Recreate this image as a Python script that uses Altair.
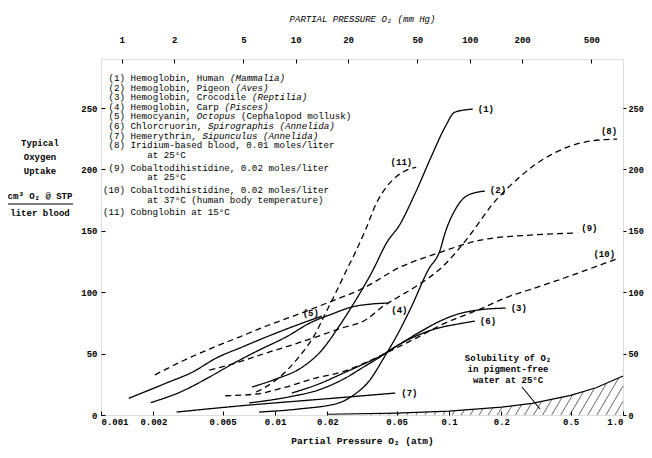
import altair as alt
import pandas as pd
import numpy as np

FONT = "Liberation Mono"

# ---------------- data ----------------
# x: partial pressure O2 (atm), y: oxygen uptake (cm3 O2 @ STP / liter blood)
c1_x = [0.00739, 0.0101, 0.0141, 0.0186, 0.0232, 0.0275, 0.0358, 0.0448, 0.0511, 0.064, 0.0789, 0.0949, 0.108, 0.137]
c1_y = [22.8, 29.3, 38.3, 52.9, 71.7, 87.9, 115.6, 142.5, 153.1, 180.8, 210.1, 234.5, 246.7, 249.2]

c2_x = [0.00811, 0.0137, 0.0232, 0.0283, 0.0344, 0.0425, 0.0511, 0.0607, 0.0759, 0.0889, 0.0949, 0.1082, 0.1234, 0.1466, 0.1607]
c2_y = [2.4, 4.9, 9.8, 16.3, 26.9, 47.2, 66.8, 87.9, 118.1, 134.4, 148.2, 166.9, 177.5, 181.6, 182.4]

c3_x = [0.0125, 0.0178, 0.0248, 0.0323, 0.0393, 0.0511, 0.0665, 0.0865, 0.1125, 0.1466, 0.2118]
c3_y = [17.9, 25.2, 34.2, 41.5, 47.2, 57.0, 66.8, 75.7, 82.2, 85.5, 87.1]

c4_x = [0.00193, 0.00294, 0.0042, 0.00568, 0.00811, 0.01156, 0.01627, 0.0212, 0.0275, 0.0358, 0.0448]
c4_y = [10.0, 19.5, 30.9, 41.5, 52.9, 63.5, 75.7, 82.2, 87.9, 90.4, 91.2]

c5_x = [0.001445, 0.00238, 0.00336, 0.0046, 0.00648, 0.00889, 0.0125, 0.0186]
c5_y = [13.6, 26.1, 35.0, 46.4, 55.4, 63.5, 71.7, 80.6]

c6_x = [0.0071, 0.012, 0.0178, 0.0248, 0.0323, 0.0393, 0.0511, 0.0665, 0.0865, 0.1125, 0.1408]
c6_y = [9.8, 14.7, 20.4, 29.3, 39.1, 46.4, 57.0, 65.1, 70.8, 74.1, 76.5]

c7_x = [0.00272, 0.0071, 0.0137, 0.0265, 0.0491]
c7_y = [2.4, 8.1, 11.4, 14.7, 17.9]

c8_x = [0.0042, 0.00623, 0.00889, 0.0125, 0.01714, 0.02415, 0.0331, 0.042, 0.0511, 0.0665, 0.0925,
        0.1125, 0.1318, 0.1524, 0.1762, 0.209, 0.2545, 0.31, 0.383, 0.498, 0.648, 0.925]
c8_y = [36.6, 43.2, 50.5, 57.0, 63.5, 70.8, 77.4, 88.8, 96.1, 105.9, 121.3,
        134.4, 146.6, 158.8, 171.0, 182.4, 193.8, 203.6, 211.7, 219.1, 223.1, 224.8]

c9_x = [0.00204, 0.00294, 0.0042, 0.00623, 0.00924, 0.0137, 0.0212, 0.0323, 0.0511, 0.0865, 0.1524, 0.294, 0.546]
c9_y = [32.6, 44.0, 53.7, 63.5, 73.3, 82.2, 92.8, 103.4, 119.7, 131.9, 142.5, 146.6, 148.2]

c10_x = [0.00518, 0.00779, 0.01156, 0.01714, 0.02415, 0.0358, 0.0511, 0.0665, 0.0949, 0.1466, 0.2174, 0.323, 0.46, 0.71, 0.949]
c10_y = [15.7, 17.1, 22.8, 30.1, 35.0, 44.8, 55.4, 63.5, 74.9, 85.5, 96.1, 104.2, 111.6, 121.3, 127.9]

c11_x = [0.00779, 0.01014, 0.0137, 0.01714, 0.01955, 0.0223, 0.0258, 0.029, 0.0331, 0.0383, 0.0437, 0.0511, 0.0648]
c11_y = [18.7, 28.5, 47.2, 66.8, 83.1, 99.3, 118.1, 132.7, 150.7, 172.6, 185.7, 195.4, 202.0]

sol_x = [0.02, 0.05, 0.1, 0.2, 0.3, 0.5, 0.7, 1.0]
sol_y = [0.6, 1.6, 3.2, 6.4, 9.5, 16.0, 22.2, 31.8]

bottom_ticks = [0.001, 0.002, 0.005, 0.01, 0.02, 0.05, 0.1, 0.2, 0.5, 1.0]
top_ticks_mmhg = [1, 2, 5, 10, 20, 50, 100, 200, 500]
y_ticks = [0, 50, 100, 150, 200, 250]

legend_lines = [
    [("(1) Hemoglobin, Human ", False), ("(Mammalia)", True)],
    [("(2) Hemoglobin, Pigeon ", False), ("(Aves)", True)],
    [("(3) Hemoglobin, Crocodile ", False), ("(Reptilia)", True)],
    [("(4) Hemoglobin, Carp ", False), ("(Pisces)", True)],
    [("(5) Hemocyanin, ", False), ("Octopus", True), (" (Cephalopod mollusk)", False)],
    [("(6) Chlorcruorin, ", False), ("Spirographis (Annelida)", True)],
    [("(7) Hemerythrin, ", False), ("Sipunculus (Annelida)", True)],
    [("(8) Iridium-based blood, 0.01 moles/liter", False)],
    [("at 25°C", False)],
    [("(9) Cobaltodihistidine, 0.02 moles/liter", False)],
    [("at 25°C", False)],
    [("(10) Cobaltodihistidine, 0.02 moles/liter", False)],
    [("at 37°C (human body temperature)", False)],
    [("(11) Cobnglobin at 15°C", False)],
]
legend_indent = [1, 1, 1, 1, 1, 1, 1, 1, 8, 1, 8, 0, 8, 0]      # character columns
legend_gap = [0, 1, 1, 1, 1, 1, 1, 1, 1, 1.35, 1, 1.35, 1, 1.3]  # line steps

curves = [
    ("(1)", c1_x, c1_y, "solid"), ("(2)", c2_x, c2_y, "solid"), ("(3)", c3_x, c3_y, "solid"),
    ("(4)", c4_x, c4_y, "solid"), ("(5)", c5_x, c5_y, "solid"), ("(6)", c6_x, c6_y, "solid"),
    ("(7)", c7_x, c7_y, "solid"), ("(8)", c8_x, c8_y, "dashed"), ("(9)", c9_x, c9_y, "dashed"),
    ("(10)", c10_x, c10_y, "dashed"), ("(11)", c11_x, c11_y, "dashed"),
]
# label placement style: (align, dx, dy)
label_style = {
    "(1)": ("left", 5, 0), "(2)": ("left", 5, -1), "(3)": ("left", 5, 0),
    "(4)": ("left", 3, 7), "(5)": ("right", -3, -3), "(6)": ("left", 5, 0),
    "(7)": ("left", 6, 0), "(8)": ("right", 0, -8), "(9)": ("left", 4, -5),
    "(10)": ("right", -4, -4), "(11)": ("right", -4, -5),
}

# ---------------- layout ----------------
W, H = 522, 356
XMIN, XMAX = 0.001, 1.0
YMIN, YMAX = 0, 290

xscale = alt.Scale(type="log", domain=[XMIN, XMAX], nice=False)
yscale = alt.Scale(domain=[YMIN, YMAX], nice=False, zero=True)

lab = dict(labelFont=FONT, labelFontWeight="bold", labelColor="black",
           tickColor="black", grid=False, domain=False, labelOverlap=False)

bottom_axis = alt.Axis(orient="bottom", values=bottom_ticks,
                       labelExpr="datum.value >= 1 ? '1.0' : '' + datum.value",
                       tickSize=4, offset=-4, labelPadding=2, labelFlush=True, labelFontSize=9,
                       title="Partial Pressure O\u2082  (atm)", titleFont=FONT, titleFontWeight="bold",
                       titleFontSize=9.5, titleColor="black", titlePadding=9, **lab)
top_axis = alt.Axis(orient="top", values=[v / 760 for v in top_ticks_mmhg],
                    labelExpr="'' + round(datum.value * 760)",
                    tickSize=4, offset=-4, labelPadding=15, labelFlush=False, labelFontSize=9,
                    title="PARTIAL PRESSURE O\u2082  (mm Hg)", titleFont=FONT, titleFontStyle="italic",
                    titleFontWeight="normal", titleFontSize=9, titleColor="black", titlePadding=12, **lab)
left_axis = alt.Axis(orient="left", values=y_ticks, tickSize=4, offset=-4, labelPadding=4,
                     title=None, labelFlush=False, labelFontSize=9, **lab)
right_axis = alt.Axis(orient="right", values=y_ticks, tickSize=3, labelPadding=2,
                      title=None, labelFlush=False, labelFontSize=8.5, **lab)

# ---------------- tables ----------------
rows = []
for cid, xs, ys, style in curves:
    for i, (xv, yv) in enumerate(zip(xs, ys)):
        rows.append(dict(id=cid, x=xv, y=yv, i=i, style=style))
df = pd.DataFrame(rows)

lines = alt.Chart(df).mark_line(interpolate="monotone", strokeWidth=1.3, color="black").encode(
    x=alt.X("x:Q", scale=xscale, axis=bottom_axis),
    y=alt.Y("y:Q", scale=yscale, axis=left_axis),
    detail="id:N",
    order="i:Q",
    strokeDash=alt.StrokeDash("style:N", scale=alt.Scale(domain=["solid", "dashed"], range=[[1, 0], [6, 4]]),
                              legend=None),
)

axes2 = alt.Chart(df).mark_point(opacity=0).encode(
    x=alt.X("x:Q", scale=xscale, axis=top_axis),
    y=alt.Y("y:Q", scale=yscale, axis=right_axis),
)

layers = [lines, axes2]

# curve labels at the end of each curve
for cid, xs, ys, style in curves:
    al, dx, dy = label_style[cid]
    ldf = pd.DataFrame({"x": [xs[-1]], "y": [ys[-1]], "t": [cid]})
    layers.append(alt.Chart(ldf).mark_text(align=al, baseline="middle", dx=dx, dy=dy, font=FONT,
                                           fontWeight="bold", fontSize=9, color="black").encode(
        x=alt.X("x:Q", scale=xscale, axis=None), y=alt.Y("y:Q", scale=yscale, axis=None), text="t:N"))

# solubility boundary and hatching
sdf = pd.DataFrame({"x": sol_x, "y": sol_y})
layers.append(alt.Chart(sdf).mark_line(color="black", strokeWidth=1.2).encode(
    x=alt.X("x:Q", scale=xscale, axis=None), y=alt.Y("y:Q", scale=yscale, axis=None)))

ppd = W / (np.log10(XMAX) - np.log10(XMIN))
ppu = H / (YMAX - YMIN)
lsx = np.log10(sol_x)
hatch = []
slope = 1.7
for s in np.arange(-1.45, 0.0, 0.052):
    us = np.linspace(s, np.log10(XMAX), 600)
    h = slope * (us - s) * ppd / ppu
    b = np.interp(us, lsx, sol_y)
    hit = np.nonzero(h >= b)[0]
    k = hit[0] if len(hit) else len(us) - 1
    if b[k] < 0.8:
        continue
    hatch.append(dict(x=10 ** s, y=0.0, x2=10 ** us[k], y2=min(h[k], b[k])))
hdf = pd.DataFrame(hatch)
layers.append(alt.Chart(hdf).mark_rule(color="black", strokeWidth=0.6).encode(
    x=alt.X("x:Q", scale=xscale, axis=None), y=alt.Y("y:Q", scale=yscale, axis=None),
    x2="x2:Q", y2="y2:Q"))

# legend block (monospace, italic segments offset by character columns)
FS = 9.2
CW = 0.6001 * FS
LH = 9.6
LX0, LY0 = 2, 19
yy = LY0
for n, (segs, ind, gap) in enumerate(zip(legend_lines, legend_indent, legend_gap)):
    yy += gap * LH
    col = ind
    for text, it in segs:
        stripped = text.lstrip(" ")
        c = col + (len(text) - len(stripped))
        layers.append(alt.Chart(pd.DataFrame({"t": [stripped.rstrip(" ")]})).mark_text(
            align="left", baseline="middle", font=FONT, fontSize=FS, color="black",
            fontStyle="italic" if it else "normal").encode(
            x=alt.value(LX0 + c * CW), y=alt.value(yy), text="t:N"))
        col += len(text)

# left title block
title_lines = [("Typical", 84), ("Oxygen", 98), ("Uptake", 112), ("cm\u00b3 O\u2082 @ STP", 137), ("liter blood", 154)]
for t, ty in title_lines:
    layers.append(alt.Chart(pd.DataFrame({"t": [t]})).mark_text(
        align="center", baseline="middle", font=FONT, fontSize=9, fontWeight="bold", color="black").encode(
        x=alt.value(-61), y=alt.value(ty), text="t:N"))
layers.append(alt.Chart(pd.DataFrame({"a": [0]})).mark_rule(color="black", strokeWidth=1).encode(
    x=alt.value(-94), x2=alt.value(-28), y=alt.value(145)))

# solubility annotation
for t, ty in [("Solubility of O\u2082", 299), ("in pigment-free", 310), ("water at 25°C", 321)]:
    layers.append(alt.Chart(pd.DataFrame({"t": [t]})).mark_text(
        align="center", baseline="middle", font=FONT, fontSize=9, fontWeight="bold", color="black").encode(
        x=alt.value(407), y=alt.value(ty), text="t:N"))
layers.append(alt.Chart(pd.DataFrame({"a": [0]})).mark_rule(color="black", strokeWidth=1.1).encode(
    x=alt.value(421), x2=alt.value(439), y=alt.value(328), y2=alt.value(350)))

chart = alt.layer(*layers).resolve_axis(x="independent", y="independent").properties(
    width=W, height=H,
    autosize=alt.AutoSizeParams(type="none"),
    padding={"left": 93, "top": 51, "right": 21, "bottom": 35},
).configure_view(stroke="black", strokeWidth=1.3).configure(background="white")

chart.save("out.html", embed_options={"renderer": "svg", "actions": False})
